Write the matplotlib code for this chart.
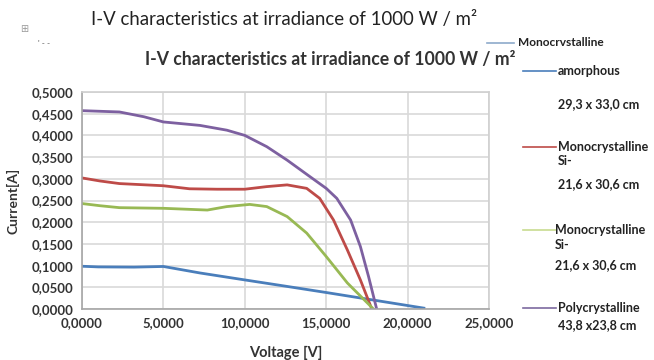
import matplotlib
matplotlib.use('Agg')
import matplotlib.pyplot as plt
from matplotlib.lines import Line2D
from matplotlib.ticker import FuncFormatter, MultipleLocator

plt.rcParams['font.family'] = ['Lato', 'DejaVu Sans']

# series (voltage V, current A)
v_amorph = [0, 1.0, 3.2, 5.0, 7.25, 10.0, 12.6, 15.0, 17.5, 21.0]
i_amorph = [0.0985, 0.0970, 0.0965, 0.0980, 0.0830, 0.0670, 0.0520, 0.0380, 0.0230, 0.0020]

v_mono1 = [0, 1.1, 2.3, 5.0, 6.6, 8.3, 10.0, 11.35, 12.6, 13.8, 14.6, 15.45, 16.3, 17.1, 17.8]
i_mono1 = [0.302, 0.295, 0.289, 0.284, 0.277, 0.276, 0.276, 0.282, 0.286, 0.278, 0.255, 0.205, 0.136, 0.067, 0.0]

v_mono2 = [0, 1.1, 2.3, 5.0, 7.7, 8.9, 10.3, 11.35, 12.6, 13.8, 15.0, 16.3, 17.9]
i_mono2 = [0.243, 0.238, 0.2335, 0.232, 0.228, 0.236, 0.241, 0.236, 0.213, 0.175, 0.121, 0.060, 0.0]

v_poly = [0, 2.3, 3.8, 5.0, 7.25, 8.9, 10.0, 11.35, 12.6, 14.0, 15.0, 15.65, 16.5, 17.1, 17.6, 18.1]
i_poly = [0.457, 0.454, 0.443, 0.431, 0.423, 0.412, 0.400, 0.374, 0.343, 0.305, 0.278, 0.255, 0.205, 0.144, 0.075, 0.0]

W, H = 654, 360
fig = plt.figure(figsize=(W / 100, H / 100), dpi=100)

def fx(x):
    return x / W

def fy(y):
    return 1 - y / H

ax = fig.add_axes([fx(82), fy(309), (489 - 82) / W, (309 - 92) / H])

ax.plot(v_amorph, i_amorph, color='#4a7ebb', lw=2)
ax.plot(v_mono1, i_mono1, color='#be4b48', lw=2)
ax.plot(v_mono2, i_mono2, color='#98b954', lw=2)
ax.plot(v_poly, i_poly, color='#7d60a0', lw=2)

ax.set_xlim(0, 25)
ax.set_ylim(0, 0.5)
ax.xaxis.set_major_locator(MultipleLocator(5))
ax.yaxis.set_major_locator(MultipleLocator(0.05))
ax.xaxis.set_major_formatter(FuncFormatter(lambda v, p: f'{v:.4f}'.replace('.', ',')))
ax.yaxis.set_major_formatter(FuncFormatter(lambda v, p: f'{v:.4f}'.replace('.', ',')))
ax.grid(True, color='#d9d9d9', lw=1.2)
ax.set_axisbelow(True)
for s in ax.spines.values():
    s.set_color('#d0d0d0')
    s.set_linewidth(1.2)
ax.spines['left'].set_color('#a6a6a6')
ax.spines['bottom'].set_color('#a6a6a6')
ax.tick_params(length=0, pad=6, labelsize=9.5, colors='#333333')
for lbl in ax.get_xticklabels() + ax.get_yticklabels():
    lbl.set_fontweight('bold')
ax.set_xlabel('Voltage [V]', fontsize=10.5, fontweight='bold', color='#333333', labelpad=12)
ax.set_ylabel('Current[A]', fontsize=10, fontweight='bold', color='#333333', labelpad=9)

# titles
fig.text(fx(91), fy(20), 'I-V characteristics at irradiance of 1000 W / m²', fontsize=13.4,
         va='center', ha='left', color='#222222')
fig.text(fx(145), fy(59), 'I-V characteristics at irradiance of 1000 W / m²', fontsize=12.7,
         fontweight='bold', va='center', ha='left', color='#333333')
fig.text(fx(24), fy(29), '⊞', fontsize=7, color='#999999', va='center', ha='center',
         family=['DejaVu Sans'])
fig.text(fx(38), fy(44), "' - -", fontsize=6, color='#555555', va='center')

# hand-drawn legend: line x0, x1, y, colour, text x, [(text, y)], font size
legend = [
    (487, 514, 43, '#8eaacb', 518, [('Monocrvstalline', 43)], 8.6),
    (523, 556, 71, '#4a7ebb', 558, [('amorphous', 71), ('29,3 x 33,0 cm', 104)], 9),
    (523, 556, 147, '#be4b48', 558, [('Monocrystalline', 147), ('Si-', 161), ('21,6 x 30,6 cm', 184)], 9),
    (523, 556, 230, '#c8dc90', 555, [('Monocrystalline', 230), ('Si-', 245), ('21,6 x 30,6 cm', 265)], 9),
    (523, 556, 308, '#7d6aa0', 558, [('Polycrystalline', 308), ('43,8 x23,8 cm', 325)], 9),
]
for x0, x1, y, col, tx, lines, fs in legend:
    fig.add_artist(Line2D([fx(x0), fx(x1)], [fy(y), fy(y)], color=col, lw=1.2,
                          transform=fig.transFigure))
    for t, ty in lines:
        fig.text(fx(tx), fy(ty), t, fontsize=fs, fontweight='bold',
                 color='#222222', va='center', ha='left')

fig.savefig('out.png', dpi=100)
